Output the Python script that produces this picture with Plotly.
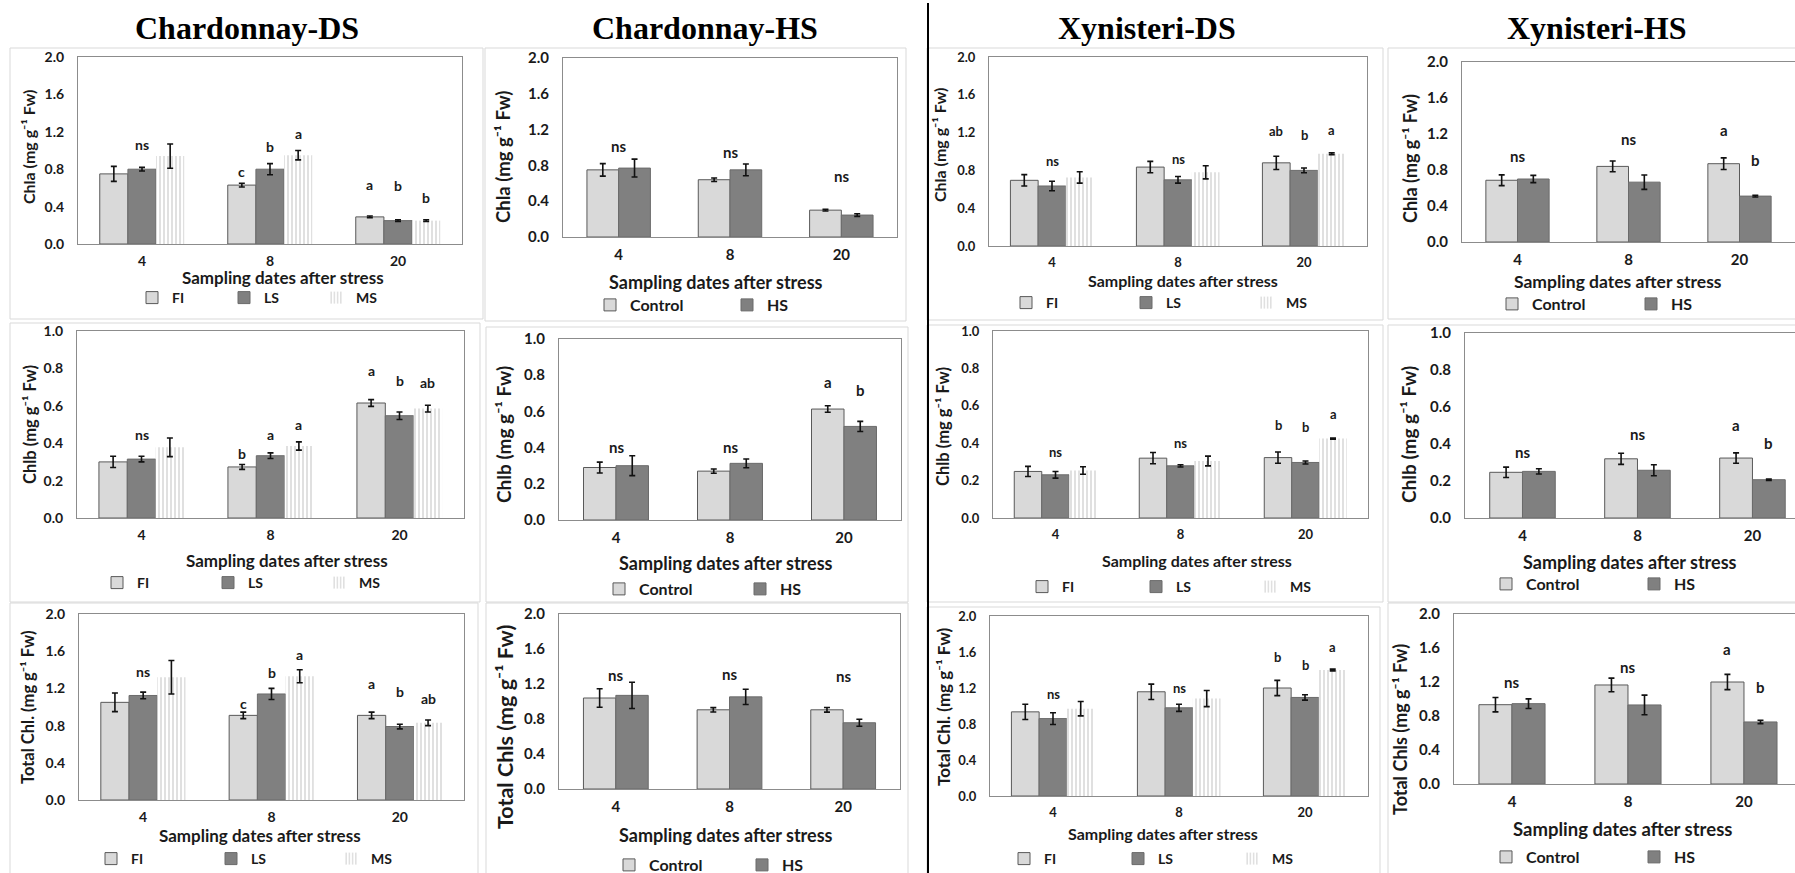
import plotly.graph_objects as go

W, H = 1795, 873

# ---------------- data ----------------
days = ["4", "8", "20"]
ds_names = ["FI", "LS", "MS"]
hs_names = ["Control", "HS"]
col_titles = ["Chardonnay-DS", "Chardonnay-HS", "Xynisteri-DS", "Xynisteri-HS"]

# Chardonnay-DS, Chla
ch_ds_chla = [[0.75, 0.63, 0.29], [0.80, 0.80, 0.25], [0.94, 0.95, 0.25]]
ch_ds_chla_err = [[0.08, 0.02, 0.01], [0.02, 0.06, 0.01], [0.13, 0.05, 0.01]]
ch_ds_chla_let = [["ns"], ["c", "b", "a"], ["a", "b", "b"]]
ch_ds_chla_let_y = [[1.06], [0.78, 1.04, 1.18], [0.64, 0.63, 0.50]]

# Chardonnay-HS, Chla
ch_hs_chla = [[0.75, 0.64, 0.30], [0.77, 0.75, 0.245]]
ch_hs_chla_err = [[0.07, 0.02, 0.01], [0.10, 0.065, 0.015]]
ch_hs_chla_let = [["ns"], ["ns"], ["ns"]]
ch_hs_chla_let_y = [[1.02], [0.95], [0.68]]

# Xynisteri-DS, Chla
xy_ds_chla = [[0.695, 0.835, 0.88], [0.635, 0.70, 0.80], [0.725, 0.78, 0.975]]
xy_ds_chla_err = [[0.06, 0.06, 0.07], [0.05, 0.035, 0.025], [0.06, 0.07, 0.01]]
xy_ds_chla_let = [["ns"], ["ns"], ["ab", "b", "a"]]
xy_ds_chla_let_y = [[0.90], [0.92], [1.22, 1.17, 1.23]]

# Xynisteri-HS, Chla
xy_hs_chla = [[0.686, 0.84, 0.87], [0.70, 0.665, 0.51]]
xy_hs_chla_err = [[0.06, 0.06, 0.065], [0.04, 0.08, 0.01]]
xy_hs_chla_let = [["ns"], ["ns"], ["a", "b"]]
xy_hs_chla_let_y = [[0.95], [1.14], [1.24, 0.91]]

# Chardonnay-DS, Chlb
ch_ds_chlb = [[0.30, 0.273, 0.615], [0.315, 0.333, 0.547], [0.378, 0.385, 0.585]]
ch_ds_chlb_err = [[0.03, 0.013, 0.018], [0.015, 0.015, 0.02], [0.05, 0.022, 0.018]]
ch_ds_chlb_let = [["ns"], ["b", "a", "a"], ["a", "b", "ab"]]
ch_ds_chlb_let_y = [[0.447], [0.344, 0.446, 0.50], [0.79, 0.736, 0.722]]

# Chardonnay-HS, Chlb
ch_hs_chlb = [[0.29, 0.27, 0.613], [0.30, 0.313, 0.517]]
ch_hs_chlb_err = [[0.03, 0.012, 0.018], [0.055, 0.024, 0.028]]
ch_hs_chlb_let = [["ns"], ["ns"], ["a", "b"]]
ch_hs_chlb_let_y = [[0.405], [0.405], [0.76, 0.72]]

# Xynisteri-DS, Chlb
xy_ds_chlb = [[0.249, 0.32, 0.323], [0.231, 0.279, 0.297], [0.254, 0.305, 0.425]]
xy_ds_chlb_err = [[0.027, 0.03, 0.03], [0.018, 0.006, 0.008], [0.02, 0.026, 0.003]]
xy_ds_chlb_let = [["ns"], ["ns"], ["b", "b", "a"]]
xy_ds_chlb_let_y = [[0.355], [0.40], [0.50, 0.485, 0.554]]

# Xynisteri-HS, Chlb
xy_hs_chlb = [[0.247, 0.32, 0.324], [0.252, 0.258, 0.207]]
xy_hs_chlb_err = [[0.028, 0.03, 0.028], [0.014, 0.03, 0.004]]
xy_hs_chlb_let = [["ns"], ["ns"], ["a", "b"]]
xy_hs_chlb_let_y = [[0.355], [0.456], [0.505, 0.405]]

# Chardonnay-DS, Total Chl
ch_ds_tot = [[1.05, 0.91, 0.91], [1.124, 1.14, 0.79], [1.32, 1.33, 0.83]]
ch_ds_tot_err = [[0.10, 0.035, 0.035], [0.036, 0.06, 0.025], [0.18, 0.07, 0.03]]
ch_ds_tot_let = [["ns"], ["c", "b", "a"], ["a", "b", "ab"]]
ch_ds_tot_let_y = [[1.38], [1.04, 1.37, 1.56], [1.25, 1.17, 1.09]]

# Chardonnay-HS, Total Chls
ch_hs_tot = [[1.04, 0.905, 0.905], [1.07, 1.053, 0.757]]
ch_hs_tot_err = [[0.105, 0.025, 0.027], [0.15, 0.087, 0.04]]
ch_hs_tot_let = [["ns"], ["ns"], ["ns"]]
ch_hs_tot_let_y = [[1.30], [1.315], [1.29]]

# Xynisteri-DS, Total Chl
xy_ds_tot = [[0.935, 1.158, 1.20], [0.86, 0.98, 1.095], [0.97, 1.083, 1.40]]
xy_ds_tot_err = [[0.085, 0.085, 0.085], [0.065, 0.04, 0.03], [0.08, 0.09, 0.01]]
xy_ds_tot_let = [["ns"], ["ns"], ["b", "b", "a"]]
xy_ds_tot_let_y = [[1.13], [1.195], [1.54, 1.46, 1.66]]

# Xynisteri-HS, Total Chls
xy_hs_tot = [[0.933, 1.165, 1.20], [0.945, 0.93, 0.73]]
xy_hs_tot_err = [[0.085, 0.08, 0.09], [0.057, 0.115, 0.02]]
xy_hs_tot_let = [["ns"], ["ns"], ["a", "b"]]
xy_hs_tot_let_y = [[1.196], [1.376], [1.59, 1.14]]

# ---------------- layout / styles ----------------
FONT = "Lato"
TXT = "#1a1a1a"
UNIT = "(mg g\u207b\u00b9 Fw)"

styles = {
    "FI": dict(color="#d9d9d9", line=dict(color="#595959", width=1)),
    "Control": dict(color="#d9d9d9", line=dict(color="#595959", width=1)),
    "LS": dict(color="#808080", line=dict(color="#6b6b6b", width=1)),
    "HS": dict(color="#808080", line=dict(color="#6b6b6b", width=1)),
    "MS": dict(color="#c4c4c4", line=dict(width=0),
               pattern=dict(shape="|", fgcolor="#bababa", bgcolor="#ffffff", size=4, solidity=0.45)),
}

# per-column font sizes: tick labels, legend, significance letters
colfont = [
    dict(tick=14, lg=14, lt=14),
    dict(tick=15, lg=16, lt=15),
    dict(tick=13, lg=14, lt=13),
    dict(tick=15, lg=16, lt=15),
]

panels = [
    # row 1
    dict(col=0, vals=ch_ds_chla, err=ch_ds_chla_err, let=ch_ds_chla_let, lety=ch_ds_chla_let_y, names=ds_names,
         box=(78, 57, 462, 244), ymax=2.0, dtick=0.4, xmax=2.5, ytitle="Chla " + UNIT, yt=(28, 147, 16), xt=(283, 277, 17),
         leg=(153, 298, 92), frame=(10, 48, 483, 319)),
    dict(col=1, vals=ch_hs_chla, err=ch_hs_chla_err, let=ch_hs_chla_let, lety=ch_hs_chla_let_y, names=hs_names,
         box=(563, 58, 897, 237), ymax=2.0, dtick=0.4, xmax=2.5, ytitle="Chla " + UNIT, yt=(503, 157, 18.5), xt=(716, 282, 18),
         leg=(611, 305, 137), frame=(485, 48, 906, 321)),
    dict(col=2, vals=xy_ds_chla, err=xy_ds_chla_err, let=xy_ds_chla_let, lety=xy_ds_chla_let_y, names=ds_names,
         box=(989, 57, 1367, 246), ymax=2.0, dtick=0.4, xmax=2.5, ytitle="Chla " + UNIT, yt=(940, 145, 16), xt=(1183, 280, 16),
         leg=(1027, 303, 120), frame=(927, 48, 1383, 320)),
    dict(col=3, vals=xy_hs_chla, err=xy_hs_chla_err, let=xy_hs_chla_let, lety=xy_hs_chla_let_y, names=hs_names,
         box=(1462, 62, 1795, 242), ymax=2.0, dtick=0.4, xmax=2.5, ytitle="Chla " + UNIT, yt=(1410, 159, 18), xt=(1618, 282, 17.5),
         leg=(1513, 304, 139), frame=(1388, 48, 1800, 319)),
    # row 2
    dict(col=0, vals=ch_ds_chlb, err=ch_ds_chlb_err, let=ch_ds_chlb_let, lety=ch_ds_chlb_let_y, names=ds_names,
         box=(77, 331, 464, 518), ymax=1.0, dtick=0.2, xmax=2.5, ytitle="Chlb " + UNIT, yt=(30, 425, 16.5), xt=(287, 560, 17),
         leg=(118, 583, 111), frame=(10, 323, 480, 602)),
    dict(col=1, vals=ch_hs_chlb, err=ch_hs_chlb_err, let=ch_hs_chlb_let, lety=ch_hs_chlb_let_y, names=hs_names,
         box=(559, 339, 901, 520), ymax=1.0, dtick=0.2, xmax=2.5, ytitle="Chlb " + UNIT, yt=(503, 435, 19), xt=(726, 563, 18),
         leg=(620, 589, 141), frame=(486, 327, 908, 602)),
    dict(col=2, vals=xy_ds_chlb, err=xy_ds_chlb_err, let=xy_ds_chlb_let, lety=xy_ds_chlb_let_y, names=ds_names,
         box=(993, 331, 1368, 518), ymax=1.0, dtick=0.2, xmax=2.5, ytitle="Chlb " + UNIT, yt=(943, 427, 16.5), xt=(1197, 560, 16),
         leg=(1043, 587, 114), frame=(927, 325, 1383, 602)),
    dict(col=3, vals=xy_hs_chlb, err=xy_hs_chlb_err, let=xy_hs_chlb_let, lety=xy_hs_chlb_let_y, names=hs_names,
         box=(1465, 333, 1795, 518), ymax=1.0, dtick=0.2, xmax=2.37, ytitle="Chlb " + UNIT, yt=(1408, 435, 19), xt=(1630, 562, 18),
         leg=(1507, 584, 148), frame=(1388, 325, 1800, 602)),
    # row 3
    dict(col=0, vals=ch_ds_tot, err=ch_ds_tot_err, let=ch_ds_tot_let, lety=ch_ds_tot_let_y, names=ds_names,
         box=(79, 614, 464, 800), ymax=2.0, dtick=0.4, xmax=2.5, ytitle="Total Chl. " + UNIT, yt=(28, 708, 16.5), xt=(260, 835, 17),
         leg=(112, 859, 120), frame=(10, 603, 478, 880)),
    dict(col=1, vals=ch_hs_tot, err=ch_hs_tot_err, let=ch_hs_tot_let, lety=ch_hs_tot_let_y, names=hs_names,
         box=(559, 614, 900, 789), ymax=2.0, dtick=0.4, xmax=2.5, ytitle="Total Chls " + UNIT, yt=(505, 727, 21.5), xt=(726, 835, 18),
         leg=(630, 865, 133), frame=(486, 603, 908, 880)),
    dict(col=2, vals=xy_ds_tot, err=xy_ds_tot_err, let=xy_ds_tot_let, lety=xy_ds_tot_let_y, names=ds_names,
         box=(990, 616, 1368, 796), ymax=2.0, dtick=0.4, xmax=2.5, ytitle="Total Chl. " + UNIT, yt=(943, 707, 17), xt=(1163, 833, 16),
         leg=(1025, 859, 114), frame=(927, 607, 1380, 880)),
    dict(col=3, vals=xy_hs_tot, err=xy_hs_tot_err, let=xy_hs_tot_let, lety=xy_hs_tot_let_y, names=hs_names,
         box=(1454, 614, 1795, 784), ymax=2.0, dtick=0.4, xmax=2.44, ytitle="Total Chls " + UNIT, yt=(1400, 730, 18), xt=(1622, 829, 18.5),
         leg=(1507, 857, 148), frame=(1388, 603, 1800, 880)),
]


def fx(x):
    return x / W


def fy(y):
    return 1 - y / H


fig = go.Figure()
annotations = []
shapes = []
layout = {}
positions = list(range(len(days)))

for i, p in enumerate(panels, start=1):
    sfx = "" if i == 1 else str(i)
    xa, ya = "x" + sfx, "y" + sfx
    lg = "legend" + sfx
    cf = colfont[p["col"]]
    n = len(p["names"])
    bw = 0.22 if n == 3 else 0.285
    for k, name in enumerate(p["names"]):
        off = -n * bw / 2 + k * bw
        fig.add_trace(go.Bar(
            x=positions, y=p["vals"][k], width=bw, offset=off, name=name,
            xaxis=xa, yaxis=ya, legend=lg, marker=styles[name],
            error_y=dict(type="data", array=p["err"][k], color="#111111", thickness=1.6, width=3),
            hoverinfo="y",
        ))

    # significance letters
    for g, (labs, ys) in enumerate(zip(p["let"], p["lety"])):
        if len(labs) == 1:
            xs = [g]
        else:
            xs = [g - n * bw / 2 + (k + 0.5) * bw for k in range(n)]
        for lab, xv, yv in zip(labs, xs, ys):
            annotations.append(dict(x=xv, y=yv, xref=xa, yref=ya, text="<b>" + lab + "</b>", showarrow=False,
                                    xanchor="center", yanchor="middle",
                                    font=dict(family=FONT, size=cf["lt"], color=TXT)))
    x0, y0, x1, y1 = p["box"]
    layout["xaxis" + sfx] = dict(
        domain=[fx(x0), fx(x1)], anchor=ya, range=[-0.5, p["xmax"]], tickmode="array",
        tickvals=positions, ticktext=days, showline=True, mirror=True, linecolor="#8c8c8c", linewidth=1,
        ticks="", ticklen=0, ticklabelstandoff=4, showgrid=False, zeroline=False, fixedrange=True,
        tickfont=dict(family=FONT, size=cf["tick"], color=TXT, weight="bold"))
    layout["yaxis" + sfx] = dict(
        domain=[fy(y1), fy(y0)], anchor=xa, range=[0, p["ymax"]], dtick=p["dtick"], tick0=0,
        tickformat=".1f", showline=True, mirror=True, linecolor="#8c8c8c", linewidth=1,
        ticks="", ticklen=0, ticklabelstandoff=10, showgrid=False, zeroline=False, fixedrange=True,
        tickfont=dict(family=FONT, size=cf["tick"], color=TXT, weight="bold"))
    lx, ly, spacing = p["leg"]
    layout[lg] = dict(orientation="h", x=fx(lx - 21), y=fy(ly), xanchor="left", yanchor="middle",
                      entrywidth=spacing - 45, entrywidthmode="pixels", bgcolor="rgba(0,0,0,0)",
                      borderwidth=0, traceorder="normal",
                      font=dict(family=FONT, size=cf["lg"], color=TXT, weight="bold"))
    # axis titles
    annotations.append(dict(x=fx(p["yt"][0]), y=fy(p["yt"][1]), xref="paper", yref="paper",
                            text="<b>" + p["ytitle"] + "</b>", textangle=-90, showarrow=False,
                            xanchor="center", yanchor="middle",
                            font=dict(family=FONT, size=p["yt"][2], color=TXT)))
    annotations.append(dict(x=fx(p["xt"][0]), y=fy(p["xt"][1]), xref="paper", yref="paper",
                            text="<b>Sampling dates after stress</b>", showarrow=False,
                            xanchor="center", yanchor="middle",
                            font=dict(family=FONT, size=p["xt"][2], color=TXT)))
    # chart-area frame
    a0, b0, a1, b1 = p["frame"]
    shapes.append(dict(type="rect", xref="paper", yref="paper", x0=fx(a0), x1=fx(a1), y0=fy(b1), y1=fy(b0),
                       line=dict(color="#d9d9d9", width=1), fillcolor="rgba(0,0,0,0)", layer="below"))

# column titles
for t, cx in zip(col_titles, [247, 705, 1147, 1597]):
    annotations.append(dict(x=fx(cx), y=fy(28), xref="paper", yref="paper", text="<b>" + t + "</b>",
                            showarrow=False, xanchor="center", yanchor="middle",
                            font=dict(family="Liberation Serif", size=32, color="#000000")))

# divider line
shapes.append(dict(type="line", xref="paper", yref="paper", x0=fx(928), x1=fx(928), y0=fy(873), y1=fy(3),
                   line=dict(color="#000000", width=2)))

fig.update_layout(
    width=W, height=H, margin=dict(l=0, r=0, t=0, b=0, autoexpand=False), autosize=False,
    paper_bgcolor="white", plot_bgcolor="white", barmode="overlay",
    annotations=annotations, shapes=shapes, showlegend=True, **layout)

fig.write_html("out.html", config={"displayModeBar": False},
               post_script="document.body.style.margin='0';document.body.style.overflow='hidden';")
